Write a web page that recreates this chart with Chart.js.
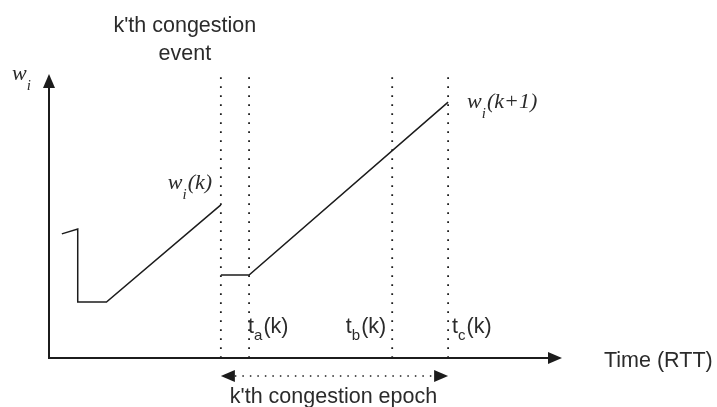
<!DOCTYPE html>
<html>
<head>
<meta charset="utf-8">
<script src="https://cdn.jsdelivr.net/npm/chart.js@4.4.1/dist/chart.umd.min.js"></script>
<style>
  html, body { margin: 0; padding: 0; background: #fff; }
  #wrap { width: 717px; height: 407px; }
</style>
</head>
<body>
<div id="wrap"><canvas id="cwnd" width="717" height="407"></canvas></div>
<script>
// window w_i around the k'th congestion event (time in RTT units, window as % of axis height)
const beforeTime = [2.5, 5.6, 5.6, 11.2, 33.5];
const beforeWin  = [43.7, 45.4, 19.7, 19.7, 53.9];
const afterTime  = [33.5, 39.0, 77.8];
const afterWin   = [29.2, 29.2, 90.1];

// congestion event, t_a(k), t_b(k), t_c(k)
const markerTimes = [33.5, 39.0, 66.9, 77.8];
const markerSubs  = [null, 'a', 'b', 'c'];

const X_MAX = 100, Y_MAX = 100;
const INK = '#1c1c1c';
const TXT = '#2b2b2b';
const SANS = '"Liberation Sans", Arial, sans-serif';
const SERIF = '"Liberation Serif", "Times New Roman", serif';

function toPoints(xs, ys) {
  return xs.map((v, i) => ({ x: v, y: ys[i] }));
}

function arrowHead(ctx, tx, ty, dir) {
  const len = 14, half = 6;
  ctx.beginPath();
  ctx.moveTo(tx, ty);
  if (dir === 'up')    { ctx.lineTo(tx - half, ty + len); ctx.lineTo(tx + half, ty + len); }
  if (dir === 'right') { ctx.lineTo(tx - len, ty - half); ctx.lineTo(tx - len, ty + half); }
  if (dir === 'left')  { ctx.lineTo(tx + len, ty - half); ctx.lineTo(tx + len, ty + half); }
  ctx.closePath();
  ctx.fill();
}

// base text + subscript + trailing text, returns total width
function subText(ctx, x, y, base, sub, rest, bigFont, smallFont, drop, measureOnly) {
  ctx.font = bigFont;
  const wb = ctx.measureText(base).width;
  const wr = ctx.measureText(rest).width;
  ctx.font = smallFont;
  const ws = ctx.measureText(sub).width;
  if (!measureOnly) {
    ctx.font = bigFont;  ctx.fillText(base, x, y);
    ctx.font = smallFont; ctx.fillText(sub, x + wb, y + drop);
    ctx.font = bigFont;  ctx.fillText(rest, x + wb + ws + 1, y);
  }
  return wb + ws + 1 + wr;
}

const diagram = {
  id: 'diagram',
  afterDatasetsDraw(chart) {
    const { ctx, scales: { x, y } } = chart;
    const x0 = x.getPixelForValue(0), y0 = y.getPixelForValue(0);
    const xEnd = x.getPixelForValue(X_MAX), yTop = y.getPixelForValue(Y_MAX);
    ctx.save();
    ctx.strokeStyle = INK; ctx.fillStyle = INK;

    // axes with arrowheads
    ctx.lineWidth = 2;
    ctx.beginPath();
    ctx.moveTo(x0, yTop + 12); ctx.lineTo(x0, y0); ctx.lineTo(xEnd - 12, y0);
    ctx.stroke();
    arrowHead(ctx, x0, yTop, 'up');
    arrowHead(ctx, xEnd, y0, 'right');

    // congestion epoch double arrow
    const ex1 = x.getPixelForValue(markerTimes[0]), ex2 = x.getPixelForValue(markerTimes[3]);
    const ey = y0 + 18;
    ctx.lineWidth = 1.5;
    ctx.setLineDash([1.5, 6]);
    ctx.beginPath(); ctx.moveTo(ex1 + 14, ey); ctx.lineTo(ex2 - 14, ey); ctx.stroke();
    ctx.setLineDash([]);
    arrowHead(ctx, ex1, ey, 'left');
    arrowHead(ctx, ex2, ey, 'right');

    // texts
    const sans = '21.5px ' + SANS, sansSub = '15px ' + SANS;
    const serif = 'italic 22px ' + SERIF, serifSub = 'italic 15px ' + SERIF;
    ctx.fillStyle = TXT;
    ctx.textBaseline = 'alphabetic';
    ctx.textAlign = 'center';
    ctx.font = sans;
    const evX = x.getPixelForValue(markerTimes[0]);
    ctx.fillText("k'th congestion", evX - 36, 32);
    ctx.fillText('event', evX - 36, 60);
    ctx.fillText("k'th congestion epoch", (ex1 + ex2) / 2 - 1, ey + 27);
    ctx.textAlign = 'left';
    ctx.fillText('Time (RTT)', xEnd + 42, y0 + 9);

    // w_i labels
    subText(ctx, x0 - 37, yTop + 6, 'w', 'i', '', serif, serifSub, 10);
    const pk = { x: x.getPixelForValue(beforeTime[4]), y: y.getPixelForValue(beforeWin[4]) };
    subText(ctx, pk.x - 53, pk.y - 16, 'w', 'i', '(k)', serif, serifSub, 10);
    const en = { x: x.getPixelForValue(afterTime[2]), y: y.getPixelForValue(afterWin[2]) };
    subText(ctx, en.x + 19, en.y + 6, 'w', 'i', '(k+1)', serif, serifSub, 10);

    // t_a, t_b, t_c labels
    const ty = y0 - 25;
    markerSubs.forEach((s, i) => {
      if (!s) return;
      const mx = x.getPixelForValue(markerTimes[i]);
      if (s === 'b') {
        const w = subText(ctx, 0, 0, 't', s, '(k)', sans, sansSub, 7, true);
        subText(ctx, mx - 6 - w, ty, 't', s, '(k)', sans, sansSub, 7);
      } else {
        subText(ctx, mx + (s === 'a' ? -1 : 4), ty, 't', s, '(k)', sans, sansSub, 7);
      }
    });
    ctx.restore();
  }
};

const markerSets = markerTimes.map(t => ({
  data: [{ x: t, y: 0 }, { x: t, y: Y_MAX }],
  showLine: true, pointRadius: 0,
  borderColor: INK, borderWidth: 1.8, borderDash: [1.8, 7.2],
  clip: false
}));

new Chart(document.getElementById('cwnd'), {
  type: 'scatter',
  data: {
    datasets: [
      { data: toPoints(beforeTime, beforeWin), showLine: true, pointRadius: 0,
        borderColor: INK, borderWidth: 1.5, clip: false },
      { data: toPoints(afterTime, afterWin), showLine: true, pointRadius: 0,
        borderColor: INK, borderWidth: 1.5, clip: false },
      ...markerSets
    ]
  },
  options: {
    responsive: false,
    animation: false,
    events: [],
    layout: { padding: { left: 49, right: 155, top: 74, bottom: 49 } },
    plugins: { legend: { display: false }, tooltip: { enabled: false } },
    scales: {
      x: { type: 'linear', min: 0, max: X_MAX, display: false },
      y: { type: 'linear', min: 0, max: Y_MAX, display: false }
    }
  },
  plugins: [diagram]
});
</script>
</body>
</html>
